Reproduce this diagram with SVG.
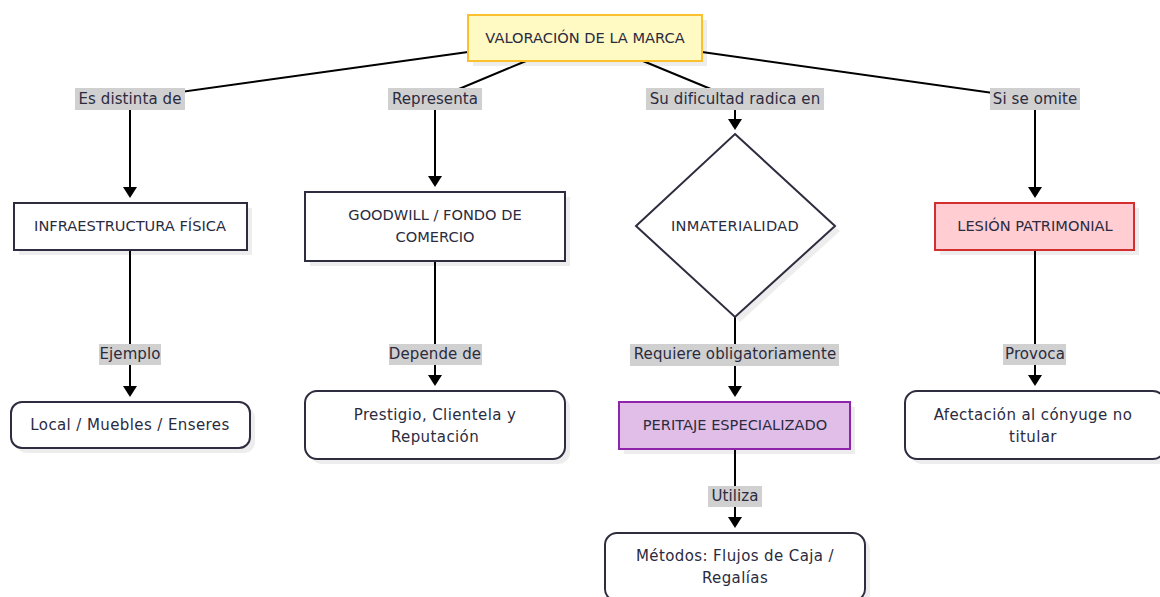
<svg xmlns="http://www.w3.org/2000/svg" width="1160" height="597" viewBox="0 0 1160 597">
<style>
text{font-family:"DejaVu Sans","Noto Sans",sans-serif;font-size:15px;fill:#2b2b40;text-anchor:middle;letter-spacing:0.4px}
text.up{letter-spacing:0px;font-size:14.6px}
text.el{font-size:15px;letter-spacing:0.1px}
.box{fill:#ffffff;stroke:#2d2d3f;stroke-width:2}
.sh{fill:#000;opacity:0.07}
.edge{fill:none;stroke:#000;stroke-width:2}
.lbl{fill:#d0d0d0}
</style>
<defs>
<marker id="arr" viewBox="0 0 11 14" refX="1" refY="7" markerWidth="11" markerHeight="14" markerUnits="userSpaceOnUse" orient="auto">
<path d="M0,0 L11,7 L0,14 z" fill="#000"/>
</marker>
</defs>
<rect width="1160" height="597" fill="#ffffff"/>

<g id="edges">
<path class="edge" d="M468,52 L130,99 L130,188" marker-end="url(#arr)"/>
<path class="edge" d="M526,61 L435,99 L435,177" marker-end="url(#arr)"/>
<path class="edge" d="M643,61 L735,99 L735,120" marker-end="url(#arr)"/>
<path class="edge" d="M702,52 L1035,99 L1035,188" marker-end="url(#arr)"/>
<path class="edge" d="M130,250 L130,387" marker-end="url(#arr)"/>
<path class="edge" d="M435,261 L435,376" marker-end="url(#arr)"/>
<path class="edge" d="M735,317 L735,387" marker-end="url(#arr)"/>
<path class="edge" d="M1035,250 L1035,376" marker-end="url(#arr)"/>
<path class="edge" d="M735,449 L735,518" marker-end="url(#arr)"/>
<g id="edge-labels">
<rect class="lbl" x="75" y="88" width="110" height="22"/>
<text class="el" x="130" y="104">Es distinta de</text>
<rect class="lbl" x="388" y="88" width="94" height="22"/>
<text class="el" x="435" y="104">Representa</text>
<rect class="lbl" x="646" y="88" width="178" height="22"/>
<text class="el" x="735" y="104">Su dificultad radica en</text>
<rect class="lbl" x="990" y="88" width="90" height="22"/>
<text class="el" x="1035" y="104">Si se omite</text>
<rect class="lbl" x="99" y="344" width="62" height="21"/>
<text class="el" x="130" y="359">Ejemplo</text>
<rect class="lbl" x="389" y="344" width="93" height="21"/>
<text class="el" x="435" y="359">Depende de</text>
<rect class="lbl" x="630" y="344" width="209" height="22"/>
<text class="el" x="735" y="359">Requiere obligatoriamente</text>
<rect class="lbl" x="1003" y="344" width="63" height="21"/>
<text class="el" x="1035" y="359">Provoca</text>
<rect class="lbl" x="708" y="486" width="54" height="21"/>
<text class="el" x="735" y="501">Utiliza</text>
</g>
</g>

<g id="n-root">
<rect class="sh" x="473" y="20" width="234" height="46"/>
<rect x="468" y="15" width="234" height="46" fill="#fff9c4" stroke="#fbc02d" stroke-width="2"/>
<text class="up" x="585" y="43">VALORACIÓN DE LA MARCA</text>
</g>

<g id="n-infra">
<rect class="sh" x="19" y="208" width="233" height="47"/>
<rect class="box" x="14" y="203" width="233" height="47"/>
<text class="up" x="130" y="231">INFRAESTRUCTURA FÍSICA</text>
</g>

<g id="n-goodwill">
<rect class="sh" x="310" y="197" width="260" height="69"/>
<rect class="box" x="305" y="192" width="260" height="69"/>
<text class="up" x="435" y="220">GOODWILL / FONDO DE</text>
<text class="up" x="435" y="242">COMERCIO</text>
</g>

<g id="n-inmat">
<polygon class="sh" points="740,139 840,231 740,322 641,231"/>
<polygon class="box" points="735,134 835,226 735,317 636,226"/>
<text class="up" x="735" y="231" style="letter-spacing:0.3px">INMATERIALIDAD</text>
</g>

<g id="n-lesion">
<rect class="sh" x="940" y="208" width="199" height="47"/>
<rect x="935" y="203" width="199" height="47" fill="#ffcdd2" stroke="#d32f2f" stroke-width="2"/>
<text class="up" x="1035" y="231">LESIÓN PATRIMONIAL</text>
</g>

<g id="n-local">
<rect class="sh" x="16" y="407" width="239" height="46" rx="11"/>
<rect class="box" x="11" y="402" width="239" height="46" rx="11"/>
<text x="130" y="430">Local / Muebles / Enseres</text>
</g>

<g id="n-prestigio">
<rect class="sh" x="310" y="396" width="260" height="68" rx="12"/>
<rect class="box" x="305" y="391" width="260" height="68" rx="12"/>
<text x="435" y="420">Prestigio, Clientela y</text>
<text x="435" y="442">Reputación</text>
</g>

<g id="n-peritaje">
<rect class="sh" x="624" y="407" width="231" height="47"/>
<rect x="619" y="402" width="231" height="47" fill="#e1bee7" stroke="#8e24aa" stroke-width="2"/>
<text class="up" x="735" y="430">PERITAJE ESPECIALIZADO</text>
</g>

<g id="n-afectacion">
<rect class="sh" x="910" y="396" width="260" height="68" rx="12"/>
<rect class="box" x="905" y="391" width="260" height="68" rx="12"/>
<text x="1033" y="420">Afectación al cónyuge no</text>
<text x="1033" y="442">titular</text>
</g>

<g id="n-metodos">
<rect class="sh" x="610" y="538" width="260" height="68" rx="12"/>
<rect class="box" x="605" y="533" width="260" height="68" rx="12"/>
<text x="735" y="561">Métodos: Flujos de Caja /</text>
<text x="735" y="583">Regalías</text>
</g>
</svg>
